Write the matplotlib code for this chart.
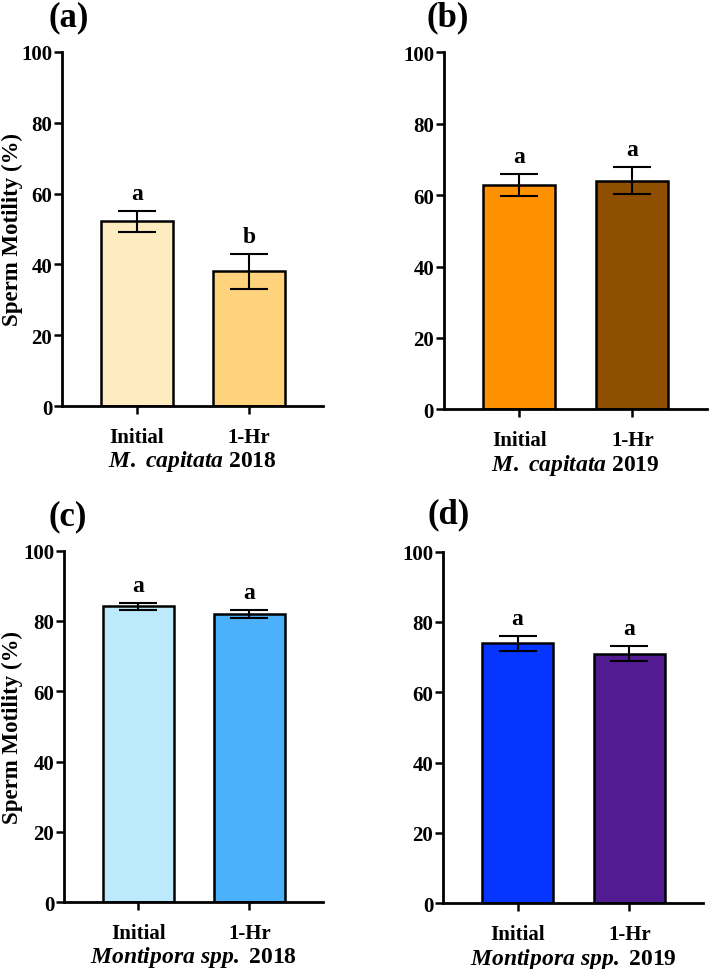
import matplotlib
matplotlib.use("Agg")
import matplotlib.pyplot as plt

plt.rcParams['font.family'] = ['Liberation Serif', 'DejaVu Serif']
plt.rcParams['font.weight'] = 'bold'
plt.rcParams['mathtext.fontset'] = 'custom'
plt.rcParams['mathtext.it'] = 'Liberation Serif:italic:bold'
plt.rcParams['mathtext.rm'] = 'Liberation Serif:bold'
plt.rcParams['mathtext.bf'] = 'Liberation Serif:bold'

groups = ["Initial", "1-Hr"]
panel_labels = ["(a)", "(b)", "(c)", "(d)"]
species = ["M. capitata", "M. capitata", "Montipora spp.", "Montipora spp."]
years = ["2018", "2019", "2018", "2019"]

means_a = [52.2, 38.0]
errs_a = [3.0, 5.0]
means_b = [62.8, 64.0]
errs_b = [3.0, 3.8]
means_c = [84.1, 82.0]
errs_c = [1.1, 1.2]
means_d = [73.9, 71.0]
errs_d = [2.2, 2.1]

letters_a = ["a", "b"]
letters_b = ["a", "a"]
letters_c = ["a", "a"]
letters_d = ["a", "a"]

colors_a = ["#FEEBC0", "#FED37C"]
colors_b = ["#FF9000", "#8E5000"]
colors_c = ["#BDE9FC", "#4BB1FB"]
colors_d = ["#0535FF", "#521B91"]

means = [means_a, means_b, means_c, means_d]
errs = [errs_a, errs_b, errs_c, errs_d]
letters = [letters_a, letters_b, letters_c, letters_d]
colors = [colors_a, colors_b, colors_c, colors_d]

fig = plt.figure(figsize=(7.09, 9.70), dpi=100)
rects = [
    [0.0874, 0.5804, 0.368, 0.365],
    [0.626, 0.577, 0.371, 0.368],
    [0.0903, 0.0688, 0.365, 0.3626],
    [0.6248, 0.0677, 0.3667, 0.3626],
]
label_pos = [(48, 18), (427, 18), (48, 517), (428, 515)]

for i in range(4):
    ax = fig.add_axes(rects[i])
    x = list(range(len(groups)))
    ax.bar(x, means[i], width=0.64, color=colors[i], edgecolor='black', linewidth=1.8, zorder=2)
    ax.errorbar(x, means[i], yerr=errs[i], fmt='none', ecolor='black', elinewidth=1.5,
                capsize=13.5, capthick=1.5, zorder=3)
    for xi, m, e, l in zip(x, means[i], errs[i], letters[i]):
        ax.annotate(l, (xi, m + e), xytext=(0, 5), textcoords='offset points',
                    ha='center', va='bottom', fontsize=17, fontweight='bold')
    ax.set_ylim(0, 100)
    ax.set_xlim(-0.668, 1.66)
    ax.set_yticks([0, 20, 40, 60, 80, 100])
    ax.set_xticks(x)
    ax.set_xticklabels(groups)
    for s in ['top', 'right']:
        ax.spines[s].set_visible(False)
    for s in ['left', 'bottom']:
        ax.spines[s].set_linewidth(2)
    ax.tick_params(axis='both', width=1.8, length=6, labelsize=15, direction='out')
    ax.tick_params(axis='x', pad=9)
    ax.tick_params(axis='y', pad=1)
    for t in ax.get_xticklabels() + ax.get_yticklabels():
        t.set_fontweight('bold')
    ax.set_xlabel(r"$\mathit{" + species[i].replace(' ', r'\ ') + r"}$ " + years[i],
                  fontsize=17, fontweight='bold', labelpad=1)
    if i in (0, 2):
        ax.set_ylabel("Sperm Motility (%)", fontsize=16.5, fontweight='bold', va='center')
        bbox = rects[i]
        xfig = 12 / 709
        ax.yaxis.set_label_coords((xfig - bbox[0]) / bbox[2], 0.5)
    px, py = label_pos[i]
    fig.text(px / 709, 1 - py / 970, panel_labels[i], fontsize=25, fontweight='bold',
             ha='left', va='center')

fig.savefig("out.png", dpi=100)
